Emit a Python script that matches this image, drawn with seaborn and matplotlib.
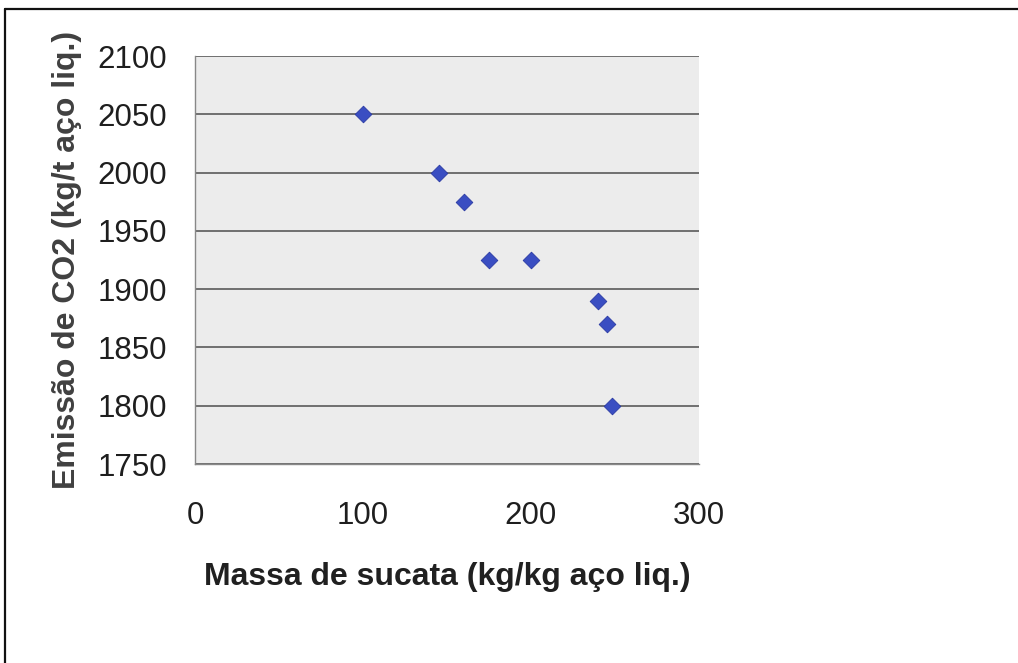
import matplotlib
matplotlib.use("Agg")
import matplotlib.pyplot as plt
import seaborn as sns
import pandas as pd
from matplotlib.lines import Line2D

massa_sucata = [100, 145, 160, 175, 200, 240, 245, 248]
emissao_co2 = [2050, 2000, 1975, 1925, 1925, 1890, 1870, 1800]
x_ticks = [0, 100, 200, 300]
y_ticks = [1750, 1800, 1850, 1900, 1950, 2000, 2050, 2100]
x_label = "Massa de sucata (kg/kg aço liq.)"
y_label = "Emissão de CO2 (kg/t aço liq.)"

df = pd.DataFrame({"x": massa_sucata, "y": emissao_co2})

sns.set_style("white")
plt.rcParams["font.family"] = ["Liberation Sans", "DejaVu Sans"]

W, H = 1018, 663
fig = plt.figure(figsize=(W / 100, H / 100), dpi=100)
ax = fig.add_axes([195 / W, 1 - 464 / H, 504 / W, 408 / H])
ax.set_facecolor("#ececec")

sns.scatterplot(data=df, x="x", y="y", ax=ax, marker="D", s=72,
                color="#3a4ec2", edgecolor="#2a3aa4", linewidth=0.6, zorder=3)

ax.set_xlim(0, 300)
ax.set_ylim(1750, 2100)
ax.set_xticks(x_ticks)
ax.set_yticks(y_ticks)
ax.yaxis.grid(True, color="#5a5a5a", linewidth=1.2)
ax.xaxis.grid(False)
ax.set_axisbelow(True)

for s in ["top", "right"]:
    ax.spines[s].set_visible(False)
for s in ["left", "bottom"]:
    ax.spines[s].set_color("#888888")
    ax.spines[s].set_linewidth(1.0)

ax.tick_params(axis="both", which="major", direction="out", length=7,
               width=1, color="#888888", labelsize=22.5, labelcolor="#1e1e1e")
ax.tick_params(axis="y", pad=13)
ax.tick_params(axis="x", pad=20)

ax.set_xlabel(x_label, fontsize=23, fontweight="bold", color="#202020")
ax.set_ylabel(y_label, fontsize=23, fontweight="bold", color="#404040")
ax.xaxis.set_label_coords(0.5, -0.240)
ax.yaxis.set_label_coords(-0.224, 0.5)

# outer frame (scanned page border)
fig.add_artist(Line2D([5 / W, 5 / W], [0, 1 - 9 / H], transform=fig.transFigure,
                      color="#111111", linewidth=1.6))
fig.add_artist(Line2D([5 / W, 1], [1 - 9 / H, 1 - 9 / H], transform=fig.transFigure,
                      color="#111111", linewidth=1.6))

fig.savefig("out.png", dpi=100)
